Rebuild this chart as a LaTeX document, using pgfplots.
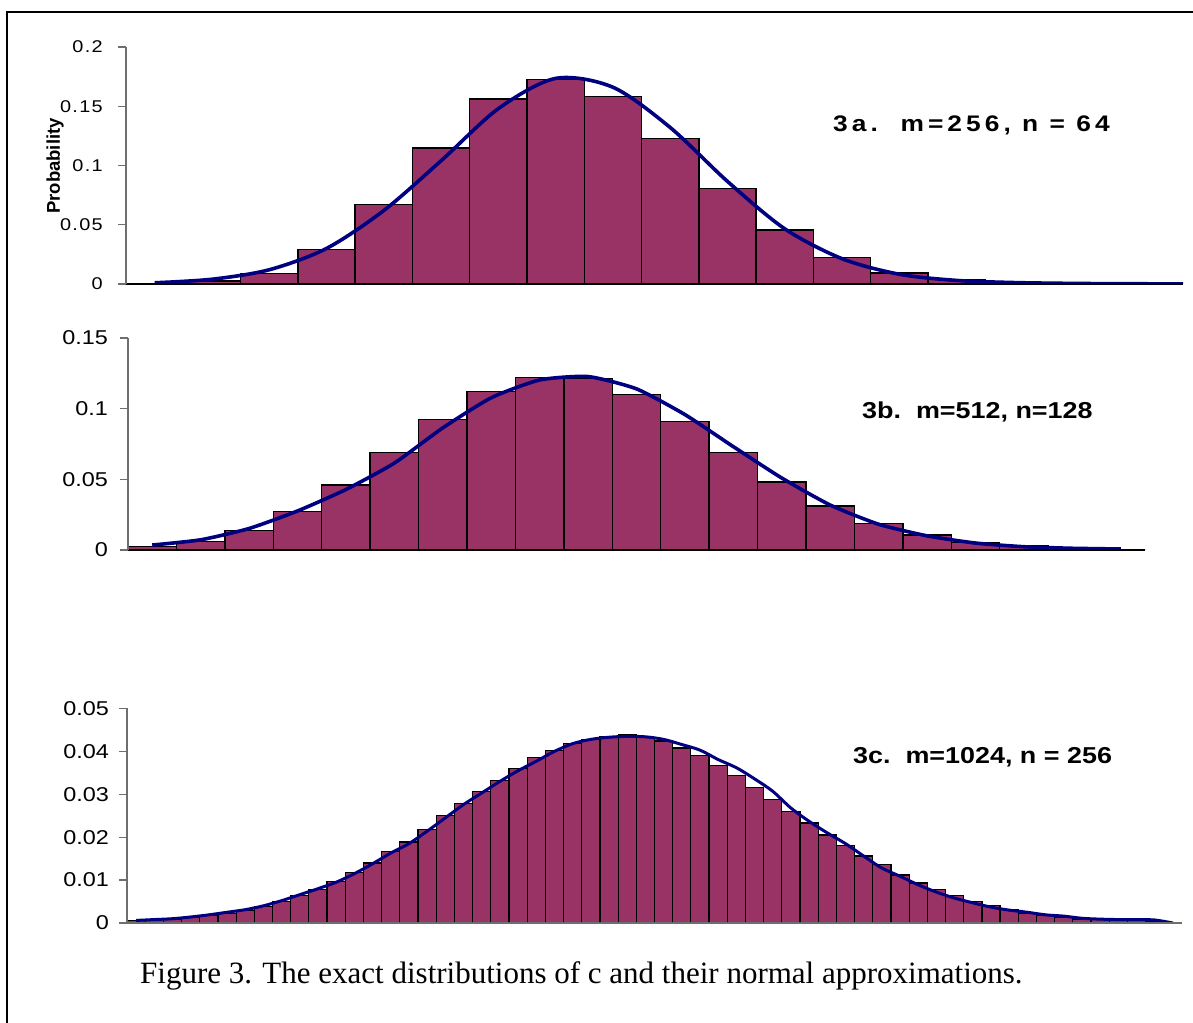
\documentclass[border=0pt]{standalone}
\usepackage{fontspec}
\usepackage{pgfplots}
\pgfplotsset{compat=1.18}
\setmainfont{Liberation Sans}
\newfontfamily\ssf{Liberation Sans}[FakeStretch=1.17]
\newfontfamily\ssfls{Liberation Sans}[FakeStretch=1.17, LetterSpace=18]
\newfontfamily\tickls{Liberation Sans}[FakeStretch=1.17, LetterSpace=8]
\newfontfamily\probfont{Liberation Sans}
\newfontfamily\capfont{Liberation Serif}
\definecolor{barc}{RGB}{153,51,102}
\definecolor{curvec}{RGB}{0,0,128}
\definecolor{axgray}{RGB}{110,110,110}

\pgfplotstableread{
x y
1 0.0006
2 0.0025
3 0.0090
4 0.0292
5 0.0669
6 0.1146
7 0.1560
8 0.1728
9 0.1580
10 0.1228
11 0.0806
12 0.0455
13 0.0225
14 0.0093
15 0.0037
16 0.0010
17 0.0004
18 0.0001
}\barsA
\pgfplotstableread{
x y
1 0.0010
2 0.0040
3 0.0120
4 0.0300
5 0.0620
6 0.1040
7 0.1480
8 0.1735
9 0.1660
10 0.1320
11 0.0865
12 0.0465
13 0.0213
14 0.0082
15 0.0030
16 0.0012
17 0.0005
18 0.0002
19 0.0001
}\curveA
\pgfplotstableread{
x y
1 0.0023
2 0.0058
3 0.0140
4 0.0271
5 0.0460
6 0.0689
7 0.0925
8 0.1120
9 0.1222
10 0.1215
11 0.1100
12 0.0911
13 0.0689
14 0.0481
15 0.0311
16 0.0187
17 0.0105
18 0.0054
19 0.0028
20 0.0013
21 0.0005
}\barsB
\pgfplotstableread{
x y
1 0.0035
2 0.0072
3 0.0152
4 0.0276
5 0.0428
6 0.0615
7 0.0864
8 0.1077
9 0.1203
10 0.1227
11 0.1140
12 0.0958
13 0.0731
14 0.0509
15 0.0318
16 0.0182
17 0.0100
18 0.0049
19 0.0023
20 0.0012
21 0.0007
}\curveB
\pgfplotstableread{
x y
1 0.0005
2 0.0008
3 0.0009
4 0.0013
5 0.0017
6 0.0023
7 0.0029
8 0.0039
9 0.0050
10 0.0064
11 0.0079
12 0.0097
13 0.0117
14 0.0140
15 0.0167
16 0.0189
17 0.0218
18 0.0250
19 0.0278
20 0.0306
21 0.0333
22 0.0360
23 0.0385
24 0.0403
25 0.0418
26 0.0428
27 0.0435
28 0.0438
29 0.0433
30 0.0424
31 0.0408
32 0.0390
33 0.0367
34 0.0344
35 0.0315
36 0.0288
37 0.0260
38 0.0233
39 0.0205
40 0.0181
41 0.0156
42 0.0136
43 0.0112
44 0.0093
45 0.0079
46 0.0065
47 0.0051
48 0.0041
49 0.0031
50 0.0023
51 0.0017
52 0.0012
53 0.0009
54 0.0008
55 0.0006
56 0.0005
57 0.0004
58 0.0002
}\barsC
\pgfplotstableread{
x y
1 0.0006
2 0.0008
3 0.0010
4 0.0014
5 0.0019
6 0.0025
7 0.0031
8 0.0040
9 0.0052
10 0.0066
11 0.0080
12 0.0095
13 0.0115
14 0.0138
15 0.0163
16 0.0185
17 0.0214
18 0.0245
19 0.0276
20 0.0303
21 0.0330
22 0.0355
23 0.0377
24 0.0400
25 0.0418
26 0.0428
27 0.0433
28 0.0435
29 0.0434
30 0.0428
31 0.0416
32 0.0403
33 0.0381
34 0.0362
35 0.0336
36 0.0307
37 0.0268
38 0.0237
39 0.0210
40 0.0185
41 0.0156
42 0.0128
43 0.0109
44 0.0089
45 0.0072
46 0.0058
47 0.0047
48 0.0037
49 0.0030
50 0.0025
51 0.0019
52 0.0016
53 0.0011
54 0.0009
55 0.0008
56 0.0008
57 0.0007
58 0.0000
}\curveC

\pgfplotsset{
  panel/.style={
    scale only axis,
    axis x line*=bottom, axis y line*=left,
    xtick=\empty, xmin=0.5, ymin=0,
    scaled y ticks=false,
    tick align=outside, major tick length=8bp,
    axis line style={line width=1.3bp},
    x axis line style={black},
    y axis line style={axgray},
    ytick style={axgray, line width=1.3bp},
    yticklabel style={anchor=east, inner sep=0pt, xshift=-12bp, text=black},
    axis on top,
  },
  bars/.style={ybar, bar width=1, bar shift=0pt, fill=barc, draw=black, line width=1.4bp},
  curve/.style={curvec, line width=3.6bp, smooth, no markers},
}

\begin{document}
\begin{tikzpicture}[x=1bp,y=1bp]
\useasboundingbox (0,0) rectangle (1193,1023);
\fill[white] (0,0) rectangle (1193,1023);
\draw[line width=2bp] (7,0) -- (7,1011) -- (1193,1011);

% Panel 3a
\begin{axis}[panel, at={(126bp,739bp)}, anchor=south west,
  width=1057bp, height=237bp, xmax=18.95, ymax=0.2,
  ytick={0,0.05,0.1,0.15,0.2},
  yticklabels={0,0.05,0.1,0.15,0.2},
  yticklabel style={font=\tickls\fontsize{17bp}{18bp}\selectfont, xshift=-3bp}]
\addplot[bars] table[x=x,y=y] {\barsA};
\addplot[curve] table[x=x,y=y] {\curveA};
\end{axis}

% Panel 3b
\begin{axis}[panel, at={(128bp,473bp)}, anchor=south west,
  width=1017bp, height=212bp, xmax=21.5, ymax=0.15,
  ytick={0,0.05,0.1,0.15},
  yticklabels={0,0.05,0.1,0.15},
  yticklabel style={font=\ssf\fontsize{20bp}{22bp}\selectfont}]
\addplot[bars] table[x=x,y=y] {\barsB};
\addplot[curve, tension=0.35] table[x=x,y=y] {\curveB};
\end{axis}

% Panel 3c
\begin{axis}[panel, at={(127bp,100bp)}, anchor=south west,
  width=1055bp, height=214.5bp, xmax=58.5, ymax=0.05,
  x axis line style={axgray},
  ytick={0,0.01,0.02,0.03,0.04,0.05},
  yticklabels={0,0.01,0.02,0.03,0.04,0.05},
  yticklabel style={font=\ssf\fontsize{20bp}{22bp}\selectfont, xshift=2bp}]
\addplot[bars, line width=1.2bp] table[x=x,y=y] {\barsC};
\addplot[curve, line width=3bp] table[x=x,y=y] {\curveC};
\end{axis}

\node[anchor=base west, inner sep=0pt, font=\ssfls\bfseries\fontsize{22.5bp}{25bp}\selectfont] at (833,891) {3a.~~m=256, n = 64};
\node[anchor=base west, inner sep=0pt, font=\ssf\bfseries\fontsize{23bp}{26bp}\selectfont] at (862,604) {3b.~~m=512, n=128};
\node[anchor=base west, inner sep=0pt, font=\ssf\bfseries\fontsize{23bp}{26bp}\selectfont] at (853,259) {3c.~~m=1024, n = 256};
\node[rotate=90, inner sep=0pt, font=\probfont\bfseries\fontsize{18.5bp}{20bp}\selectfont] at (55,857) {Probability};
\node[anchor=base west, inner sep=0pt, font=\capfont\fontsize{31bp}{34bp}\selectfont] at (140,39) {Figure 3. The exact distributions of c and their normal approximations.};
\end{tikzpicture}
\end{document}
